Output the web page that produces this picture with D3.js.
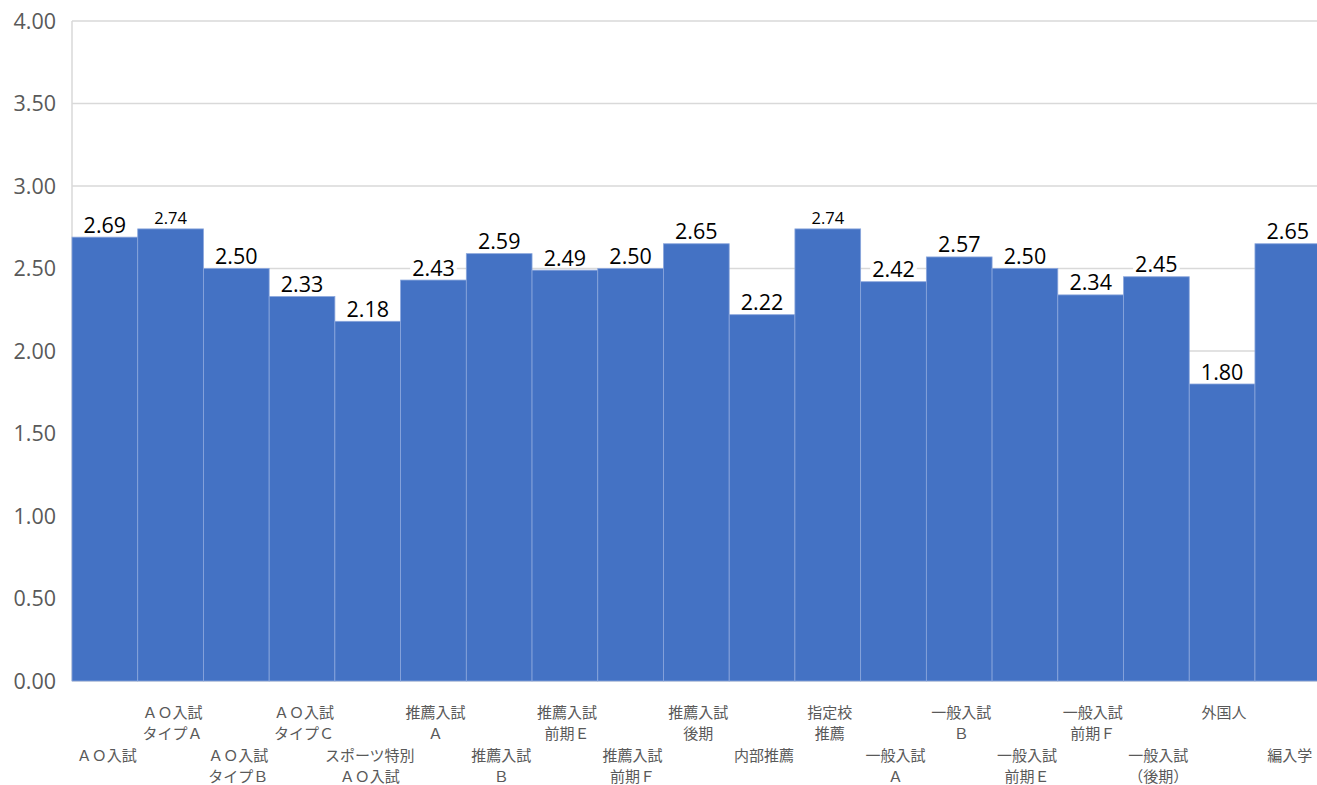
<!DOCTYPE html>
<html>
<head>
<meta charset="utf-8">
<script src="https://cdn.jsdelivr.net/npm/d3@7"></script>
<style>
  body { margin: 0; background: #fff; }
  svg { display: block; }
</style>
</head>
<body>
<div id="chart"></div>
<script>
// categories (lines split with "/")
const categories = [
  "ＡＯ入試", "ＡＯ入試/タイプＡ", "ＡＯ入試/タイプＢ", "ＡＯ入試/タイプＣ",
  "スポーツ特別/ＡＯ入試", "推薦入試/Ａ", "推薦入試/Ｂ", "推薦入試/前期Ｅ",
  "推薦入試/前期Ｆ", "推薦入試/後期", "内部推薦", "指定校/推薦",
  "一般入試/Ａ", "一般入試/Ｂ", "一般入試/前期Ｅ", "一般入試/前期Ｆ",
  "一般入試/（後期）", "外国人", "編入学"
];
const values = [2.69, 2.74, 2.50, 2.33, 2.18, 2.43, 2.59, 2.49, 2.50, 2.65,
  2.22, 2.74, 2.42, 2.57, 2.50, 2.34, 2.45, 1.80, 2.65];
// a couple of labels are drawn smaller in the original
const smallLabels = [1, 11];
const yTicks = [0, 0.5, 1, 1.5, 2, 2.5, 3, 3.5, 4];

const W = 1317, H = 785;
const plotLeft = 72, plotTop = 21, plotBottom = 681;
const bandW = 65.72;

const svg = d3.select("#chart").append("svg")
  .attr("width", W)
  .attr("height", H);

const x = d3.scaleBand()
  .domain(categories.map((d, i) => i))
  .range([plotLeft, plotLeft + bandW * categories.length])
  .padding(0);

const y = d3.scaleLinear().domain([0, 4]).range([plotBottom, plotTop]);

// gridlines
svg.append("g")
  .selectAll("line")
  .data(yTicks)
  .join("line")
  .attr("x1", plotLeft)
  .attr("x2", W)
  .attr("y1", d => y(d))
  .attr("y2", d => y(d))
  .attr("stroke", "#d9d9d9")
  .attr("stroke-width", 1.5);

// y axis line
svg.append("line")
  .attr("x1", plotLeft).attr("x2", plotLeft)
  .attr("y1", plotTop).attr("y2", plotBottom)
  .attr("stroke", "#d9d9d9")
  .attr("stroke-width", 1.5);

// y tick labels
svg.append("g")
  .selectAll("text")
  .data(yTicks)
  .join("text")
  .attr("x", 56)
  .attr("y", d => y(d))
  .attr("dy", "0.36em")
  .attr("text-anchor", "end")
  .attr("font-family", "'Open Sans', 'Noto Sans', sans-serif")
  .attr("font-size", 21.5)
  .attr("fill", "#595959")
  .text(d => d.toFixed(2));

// bars
svg.append("g")
  .selectAll("rect")
  .data(values)
  .join("rect")
  .attr("x", (d, i) => x(i))
  .attr("y", d => y(d))
  .attr("width", x.bandwidth())
  .attr("height", d => y(0) - y(d))
  .attr("fill", "#4472c4")
  .attr("stroke", "#8aa6dc")
  .attr("stroke-width", 0.8);

// value labels with white boxes
const lab = svg.append("g")
  .selectAll("g")
  .data(values)
  .join("g")
  .attr("transform", (d, i) => `translate(${x(i) + x.bandwidth() / 2},${y(d) - 4.5})`);

lab.each(function (d, i) {
  const g = d3.select(this);
  const fs = smallLabels.includes(i) ? 16.5 : 21.5;
  const t = g.append("text")
    .attr("text-anchor", "middle")
    .attr("font-family", "'Open Sans', 'Noto Sans', sans-serif")
    .attr("font-size", fs)
    .attr("fill", "#000")
    .text(d.toFixed(2));
  const bb = t.node().getBBox();
  g.insert("rect", "text")
    .attr("x", bb.x - 2)
    .attr("y", bb.y + 3)
    .attr("width", bb.width + 4)
    .attr("height", Math.min(bb.height - 3, -bb.y - 4))
    .attr("fill", "#fff");
});

// x category labels, staggered in two rows
const xl = svg.append("g")
  .selectAll("text")
  .data(categories)
  .join("text")
  .attr("text-anchor", "middle")
  .attr("font-family", "'Noto Sans CJK JP', 'Noto Sans', sans-serif")
  .attr("font-size", 15)
  .attr("fill", "#595959");

xl.each(function (d, i) {
  const t = d3.select(this);
  const cx = x(i) + x.bandwidth() / 2 + 2;
  const y0 = i % 2 === 1 ? 718 : 761;
  d.split("/").forEach((line, k) => {
    t.append("tspan")
      .attr("x", cx)
      .attr("y", y0 + k * 21)
      .text(line);
  });
});
</script>
</body>
</html>
